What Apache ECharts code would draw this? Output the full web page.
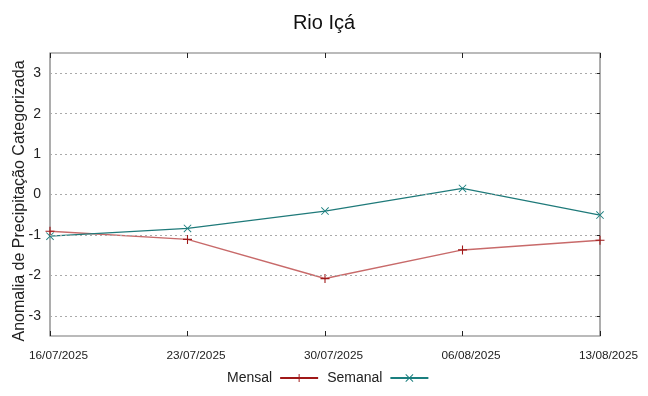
<!DOCTYPE html>
<html><head><meta charset="utf-8">
<script src="https://cdn.jsdelivr.net/npm/echarts@6/dist/echarts.min.js"></script>
<style>html,body{margin:0;padding:0;background:#fff}#c{width:648px;height:396px}</style>
</head><body><div id="c"></div>
<script>
const categories = ['16/07/2025','23/07/2025','30/07/2025','06/08/2025','13/08/2025'];
const mensal = [-0.91, -1.11, -2.08, -1.37, -1.13];
const semanal = [-1.03, -0.84, -0.41, 0.15, -0.51];
const yTicks = [-3, -2, -1, 0, 1, 2, 3];
const yTitle = 'Anomalia de Precipitação Categorizada';

const plusPath = 'path://M0,4.4L10,4.4L10,5.6L0,5.6Z M4.4,0L5.6,0L5.6,10L4.4,10Z';
const crossPath = 'path://M0.8,0L10,9.2L9.2,10L0,0.8Z M9.2,0L10,0.8L0.8,10L0,9.2Z';
const font = 'Liberation Sans, Arial, sans-serif';

const chart = echarts.init(document.getElementById('c'), null, {renderer: 'canvas'});
chart.setOption({
  animation: false,
  title: {text: 'Rio Içá', left: 'center', top: 8, textStyle: {fontFamily: font, fontSize: 20, fontWeight: 'normal', color: '#111'}},
  grid: {left: 50, right: 48, top: 53, bottom: 60, containLabel: false, outerBoundsMode: 'none', show: true, borderColor: '#777', borderWidth: 1.2},
  legend: {
    bottom: 6, left: 222, align: 'right', itemWidth: 38, itemHeight: 10, itemGap: 8,
    textStyle: {fontFamily: font, fontSize: 14, color: '#222', padding: [0, 3, 0, 0]},
    data: [
      {name: 'Mensal', lineStyle: {color: '#a01818'}},
      {name: 'Semanal', lineStyle: {color: '#1a7f7f'}}
    ]
  },
  graphic: [{
    type: 'text', x: 20, y: 201, rotation: Math.PI / 2,
    style: {text: yTitle, fontFamily: font, fontSize: 16, fill: '#222', align: 'center', verticalAlign: 'middle'}
  }],
  xAxis: [{
    type: 'category', data: categories, boundaryGap: false,
    axisLine: {show: false, onZero: false}, axisTick: {show: true, inside: true, length: 5, lineStyle: {color: '#222'}},
    axisLabel: {fontFamily: font, fontSize: 11.8, color: '#222', margin: 14, interval: 0, padding: [0, 0, 0, 17]},
    splitLine: {show: false}
  }, {
    type: 'category', data: categories, boundaryGap: false, position: 'top',
    axisLine: {show: false, onZero: false}, axisTick: {show: true, inside: true, length: 5, lineStyle: {color: '#222'}},
    axisLabel: {show: false}
  }],
  yAxis: [{
    type: 'value', min: -3.5, max: 3.5,
    axisLine: {show: false, onZero: false}, axisTick: {show: false},
    axisLabel: {fontFamily: font, fontSize: 14, color: '#222', margin: 9,
      customValues: yTicks},
    splitLine: {show: false}
  }, {
    type: 'value', min: -3.5, max: 3.5, position: 'right',
    axisLine: {show: false, onZero: false},
    axisTick: {show: true, inside: true, length: 5, lineStyle: {color: '#222'}, customValues: yTicks},
    axisLabel: {show: false},
    splitLine: {show: false}
  }],
  series: [{
    name: 'grid', type: 'line', data: [], silent: true,
    markLine: {silent: true, symbol: 'none', label: {show: false},
      lineStyle: {type: [2, 3], color: '#aaa', width: 1},
      data: yTicks.map(v => ({yAxis: v}))}
  }, {
    name: 'Mensal', type: 'line', data: mensal, symbol: plusPath, symbolSize: 9,
    lineStyle: {color: '#c86a6a', width: 1.5}, itemStyle: {color: '#a01818'}
  }, {
    name: 'Semanal', type: 'line', data: semanal, symbol: crossPath, symbolSize: 8,
    lineStyle: {color: '#1f7a7a', width: 1.2}, itemStyle: {color: '#1a7f7f'}
  }]
});
</script></body></html>
